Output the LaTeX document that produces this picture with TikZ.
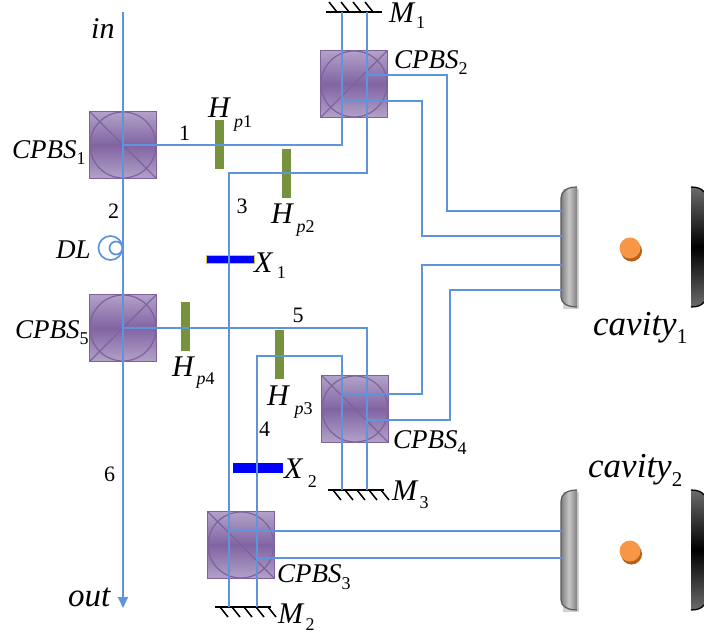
\documentclass[tikz,border=0pt]{standalone}
\usepackage{fontspec}
\setmainfont{Liberation Serif}
\usetikzlibrary{arrows.meta,shadows,calc}
\definecolor{beamc}{HTML}{5F93DC}
\definecolor{pbsedge}{HTML}{7E62A0}
\definecolor{pbslight}{HTML}{B3A2C8}
\definecolor{pbsmid}{HTML}{8064A2}
\definecolor{plate}{HTML}{76923C}
\definecolor{atomc}{HTML}{F79646}
\definecolor{atoms}{HTML}{B65F17}
\newcommand{\tx}[1]{\textit{#1}}
\newcommand{\lo}[2]{\raisebox{-#1pt}{\fontsize{18}{18}\selectfont #2}}
\newcommand{\loc}[2]{\raisebox{-#1pt}{\fontsize{21}{21}\selectfont #2}}
\tikzset{
  beam/.style={draw=beamc,line width=1.9pt},
  pbs/.style={minimum size=67pt,inner sep=0pt,draw=pbsedge,line width=1.5pt,
     top color=pbslight,bottom color=pbslight,middle color=pbsmid},
  pbsA/.style={pbs,path picture={
     \draw[pbsedge,line width=1.2pt] (path picture bounding box.center) circle (33pt);
     \draw[pbsedge,line width=1.2pt] (path picture bounding box.north west)--(path picture bounding box.south east);}},
  pbsB/.style={pbs,path picture={
     \draw[pbsedge,line width=1.2pt] (path picture bounding box.center) circle (33pt);
     \draw[pbsedge,line width=1.2pt] (path picture bounding box.south west)--(path picture bounding box.north east);}},
  hwp/.style={fill=plate,inner sep=0pt,minimum width=9pt,minimum height=49pt},
  xgate/.style={fill=blue,draw=yellow!80!black,line width=.5pt,inner sep=0pt,minimum width=48pt,minimum height=8pt},
  xgateb/.style={fill=blue,inner sep=0pt,minimum width=50pt,minimum height=10pt},
  lab/.style={inner sep=0pt,anchor=base west,font=\fontsize{27}{27}\selectfont},
  labm/.style={inner sep=0pt,anchor=base west,font=\fontsize{30}{30}\selectfont},
  labo/.style={inner sep=0pt,anchor=base west,font=\fontsize{33}{33}\selectfont},
  labc/.style={inner sep=0pt,anchor=base west,font=\fontsize{35}{35}\selectfont},
  num/.style={inner sep=0pt,anchor=base west,font=\fontsize{22}{22}\selectfont},
  atom/.style={circle,fill=atomc,minimum size=21pt,inner sep=0pt,
     drop shadow={shadow xshift=1.5pt,shadow yshift=-3pt,fill=atoms,opacity=1}},
  coil/.style={circle,draw=beamc,line width=1.7pt,inner sep=0pt},
  hatchline/.style={line width=2pt,black},
  pics/mirrorbelow/.style={code={
     \draw[hatchline] (-28,0)--(28,0);
     \foreach \a in {-23,-11,1,13,25}{\draw[line width=1.5pt] (\a,0)--(\a+8,10);}}},
  pics/mirrorabove/.style={code={
     \draw[hatchline] (-28,0)--(28,0);
     \foreach \a in {-25,-13,-1,11}{\draw[line width=1.5pt] (\a,-10)--(\a+8,0);}}},
  pics/frontmirror/.style={code={
     \fill[black!18] (2,2)--(18,2)--(18,122)--(2,122)--cycle;
     \path[left color=black!50,right color=black!50,middle color=black!22]
        (16,0) .. controls (6,0) and (0,4) .. (0,11) -- (0,110)
        .. controls (0,116) and (6,120) .. (16,120) -- cycle;
     \draw[black!65,line width=1.2pt] (16,0) .. controls (6,0) and (0,4) .. (0,11) -- (0,110)
        .. controls (0,116) and (6,120) .. (16,120);}},
  pics/backmirror/.style={code={
     \path[top color=black!58,bottom color=black!58,middle color=black]
        (0,0) .. controls (7,0) and (11,2) .. (13,5) -- (13,115)
        .. controls (11,118) and (7,120) .. (0,120) -- cycle;
     \draw[black,line width=1.3pt] (0,0) .. controls (7,0) and (11,2) .. (13,5);
     \draw[black,line width=1.3pt] (13,115) .. controls (11,118) and (7,120) .. (0,120);}},
}
\begin{document}
\begin{tikzpicture}[x=1pt,y=-1pt]
\useasboundingbox (0,0) rectangle (704,635);
% cubes
\node[pbsA] (cpbs1) at (123,145) {};
\node[pbsB] (cpbs5) at (123,328) {};
\node[pbsB] (cpbs2) at (354,84) {};
\node[pbsA] (cpbs4) at (355,409) {};
\node[pbsA] (cpbs3) at (241,545) {};
% plates
\node[hwp] (hp1) at (219.5,144.5) {};
\node[hwp] (hp2) at (286.5,173) {};
\node[hwp] (hp4) at (185.5,326.5) {};
\node[hwp] (hp3) at (279.5,354.5) {};
\node[xgate] (x1) at (230,259) {};
\node[xgateb] (x2) at (258,468) {};
% mirrors
\coordinate (m1) at (354,12);
\coordinate (m2) at (243,607);
\coordinate (m3) at (356,490);
\pic at (m1) {mirrorabove};
\pic at (m2) {mirrorbelow};
\pic at (m3) {mirrorbelow};
\pic at (561,187) {frontmirror};
\pic at (561,490) {frontmirror};
\pic at (691,187) {backmirror};
\pic at (691,490) {backmirror};
\node[atom] (a1) at (630,248) {};
\node[atom] (a2) at (630,551) {};
% coordinates for the free ends and bends
\coordinate (in) at (123,12);
\coordinate (out) at (123,608);
\coordinate (m1a) at (342,12);
\coordinate (m1b) at (367,12);
\coordinate (m2a) at (229,607);
\coordinate (m2b) at (257,607);
\coordinate (m3a) at (342,490);
\coordinate (m3b) at (367,490);
\coordinate (j3) at (229,173);
\coordinate (j4) at (257,356);
\coordinate (p2a) at (367,75);
\coordinate (p2b) at (342,101);
\coordinate (p4a) at (342,394);
\coordinate (p4b) at (367,420);
\coordinate (p3a) at (229,531);
\coordinate (p3b) at (257,558);
\coordinate (b2a) at (447,75);
\coordinate (b2b) at (422,101);
\coordinate (b4a) at (422,394);
\coordinate (b4b) at (450,420);
\coordinate (c1a) at (562,211);
\coordinate (c1b) at (562,236);
\coordinate (c1c) at (562,265);
\coordinate (c1d) at (562,290);
\coordinate (c2a) at (562,531);
\coordinate (c2b) at (562,558);
% beams
\draw[beam,-{Triangle[length=11pt,width=10pt]}] (in) -- (out);
\draw[beam] (cpbs1.center) -| (m1a);
\draw[beam] (m1b) |- (j3) -- (m2a);
\draw[beam] (cpbs5.center) -| (m3b);
\draw[beam] (m3a) |- (j4) -- (m2b);
\draw[beam] (p2a) -- (b2a) |- (c1a);
\draw[beam] (p2b) -- (b2b) |- (c1b);
\draw[beam] (p4a) -- (b4a) |- (c1c);
\draw[beam] (p4b) -- (b4b) |- (c1d);
\draw[beam] (p3a) -- (c2a);
\draw[beam] (p3b) -- (c2b);
% delay line
\node[coil,minimum size=24pt] (dl) at (110.5,248) {};
\node[coil,minimum size=13pt] (dlb) at (116,248) {};
% labels
\node[labm] (tin) at (91,38) {\tx{in}};
\node[labo] (tout) at (68,606) {\tx{out}};
\node[lab] (tdl) at (56,258) {\tx{DL}};
\node[lab] (t1) at (12,158) {\tx{CPBS}\lo{6}{1}};
\node[lab] (t5) at (15,338) {\tx{CPBS}\lo{6}{5}};
\node[lab] (t2) at (394,68) {\tx{CPBS}\lo{6}{2}};
\node[lab] (t4) at (393,448) {\tx{CPBS}\lo{6}{4}};
\node[lab] (t3) at (277,582) {\tx{CPBS}\lo{7}{3}};
\node[num] (n1) at (179,140) {1};
\node[num] (n2) at (108,218) {2};
\node[num] (n3) at (236.5,213) {3};
\node[num] (n4) at (259,436) {4};
\node[num] (n5) at (292.5,322) {5};
\node[num] (n6) at (104,481) {6};
\node[labm] (th1) at (208,117) {\tx{H}\kern3pt\lo{10}{\tx{p}1}};
\node[labm] (th2) at (271,223) {\tx{H}\kern2.5pt\lo{9}{\tx{p}2}};
\node[labm] (th3) at (267,405) {\tx{H}\kern4.5pt\lo{9}{\tx{p}3}};
\node[labm] (th4) at (172,376) {\tx{H}\kern1.5pt\lo{8}{\tx{p}4}};
\node[labm] (tx1) at (254,272) {\tx{X}\kern3.5pt\lo{6}{1}};
\node[labm] (tx2) at (284,478) {\tx{X}\kern4.5pt\lo{9}{2}};
\node[labm] (tm1) at (389,22) {\tx{M}\kern0.5pt\lo{6}{1}};
\node[labm] (tm2) at (278,623) {\tx{M}\kern1pt\lo{7}{2}};
\node[labm] (tm3) at (392,500) {\tx{M}\kern1pt\lo{8}{3}};
\node[labc] (tc1) at (593,335) {\tx{cavity}\loc{8}{1}};
\node[labc] (tc2) at (588,477) {\tx{cavity}\loc{9}{2}};
\end{tikzpicture}
\end{document}
